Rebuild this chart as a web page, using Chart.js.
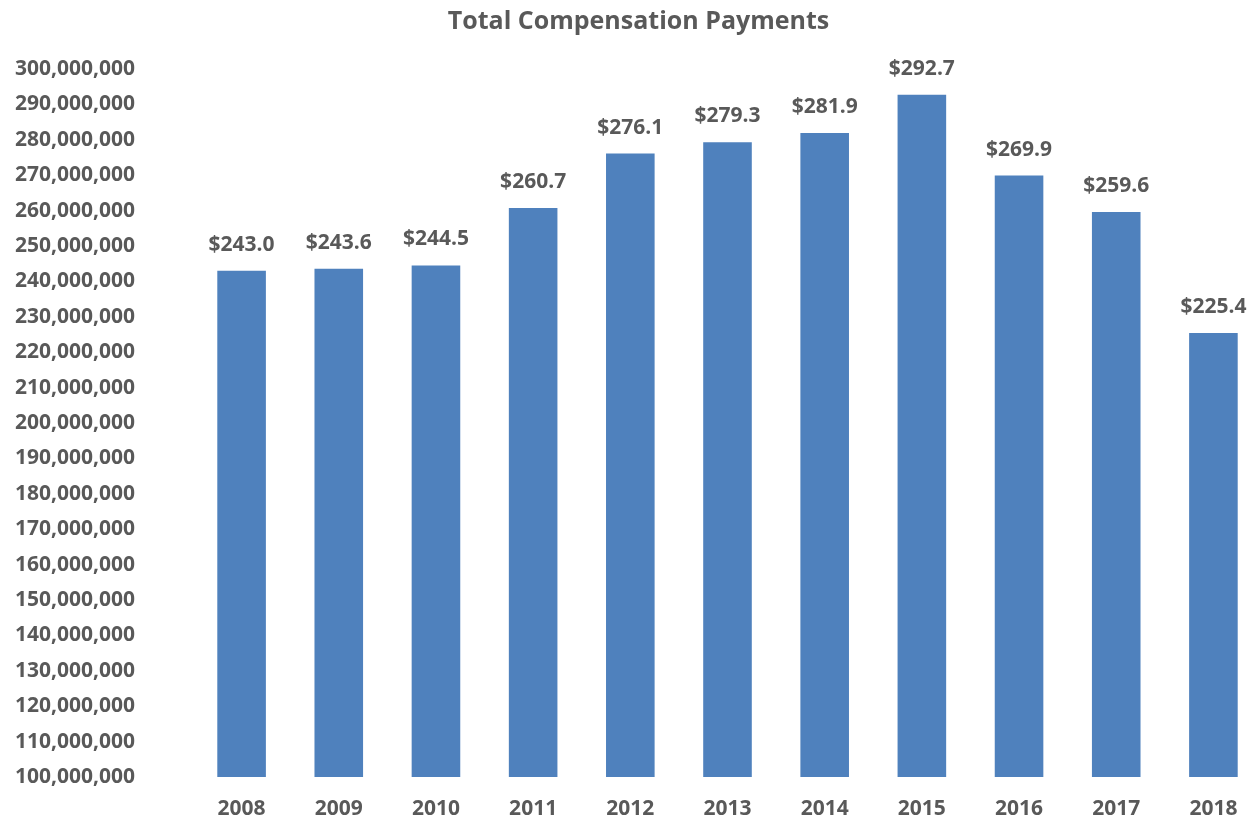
<!DOCTYPE html>
<html>
<head>
<meta charset="utf-8">
<script src="https://cdn.jsdelivr.net/npm/chart.js@4"></script>
<style>
  html, body { margin: 0; padding: 0; background: #fff; overflow: hidden; }
  #wrap { width: 1249px; height: 821px; overflow: hidden; }
</style>
</head>
<body>
<div id="wrap"><canvas id="myChart" width="1262" height="821"></canvas></div>
<script>
const years = ['2008', '2009', '2010', '2011', '2012', '2013', '2014', '2015', '2016', '2017', '2018'];
// payments in millions of dollars
const paymentsMillions = [243.0, 243.6, 244.5, 260.7, 276.1, 279.3, 281.9, 292.7, 269.9, 259.6, 225.4];
const yMin = 100000000;
const yMax = 300000000;
const yStep = 10000000;

const textColor = '#595959';
const fontFamily = '"Open Sans", "Liberation Sans", sans-serif';

// draws "$243.0" style labels above each bar
const barLabels = {
    id: 'barLabels',
    afterDatasetsDraw(chart) {
        const ctx = chart.ctx;
        const meta = chart.getDatasetMeta(0);
        ctx.save();
        ctx.font = 'bold 21px ' + fontFamily;
        ctx.fillStyle = textColor;
        ctx.textAlign = 'center';
        ctx.textBaseline = 'middle';
        meta.data.forEach((bar, i) => {
            ctx.fillText('$' + paymentsMillions[i].toFixed(1), bar.x, bar.y - 26);
        });
        ctx.restore();
    }
};

new Chart(document.getElementById('myChart'), {
    type: 'bar',
    data: {
        labels: years,
        datasets: [{
            data: paymentsMillions.map(v => v * 1000000),
            backgroundColor: '#4F81BD',
            borderWidth: 0,
            barPercentage: 0.5,
            categoryPercentage: 1.0
        }]
    },
    options: {
        responsive: false,
        animation: false,
        layout: { padding: { left: 15, right: 0, top: 0, bottom: 0 } },
        plugins: {
            legend: { display: false },
            tooltip: { enabled: false },
            title: {
                display: true,
                text: 'Total Compensation Payments',
                color: textColor,
                font: { family: fontFamily, size: 25, weight: 'bold' },
                padding: { top: 7, bottom: 32 }
            }
        },
        scales: {
            x: {
                grid: { display: false, drawTicks: false },
                border: { display: false },
                afterFit: scale => { scale.height = 44; },
                ticks: {
                    color: textColor,
                    font: { family: fontFamily, size: 21, weight: 'bold' },
                    padding: 19
                }
            },
            y: {
                min: yMin,
                max: yMax,
                grid: { display: false, drawTicks: false },
                border: { display: false },
                afterFit: scale => { scale.width = 178; },
                ticks: {
                    stepSize: yStep,
                    color: textColor,
                    font: { family: fontFamily, size: 21, weight: 'bold' },
                    padding: 0,
                    crossAlign: 'far',
                    callback: v => v.toLocaleString('en-US')
                }
            }
        }
    },
    plugins: [barLabels]
});
</script>
</body>
</html>
